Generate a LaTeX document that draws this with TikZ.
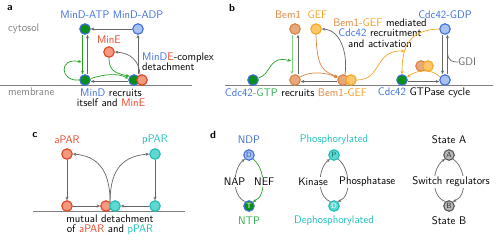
\documentclass[tikz,border=0pt]{standalone}
\usetikzlibrary{arrows.meta}
\renewcommand{\familydefault}{\sfdefault}
\definecolor{cblue}{HTML}{3F6FD9}
\definecolor{clblue}{HTML}{A9C1F2}
\definecolor{cgreen}{HTML}{0A8F1A}
\definecolor{cgtxt}{HTML}{2DB04A}
\definecolor{cgarr}{HTML}{22A022}
\definecolor{clgarr}{HTML}{7DD67D}
\definecolor{cred}{HTML}{E04020}
\definecolor{credl}{HTML}{F29A80}
\definecolor{crtxt}{HTML}{E8482A}
\definecolor{ccyan}{HTML}{1BBDB5}
\definecolor{ccyanl}{HTML}{5ED8D0}
\definecolor{cctxt}{HTML}{20C0BC}
\definecolor{cbem}{HTML}{D9823F}
\definecolor{cbeml}{HTML}{E8A87C}
\definecolor{cbtxt}{HTML}{E0843C}
\definecolor{cgef}{HTML}{F5A623}
\definecolor{cgefl}{HTML}{FFC66A}
\definecolor{cytxt}{HTML}{F5A020}
\definecolor{cgray}{HTML}{666666}
\definecolor{cmem}{HTML}{808080}
\definecolor{cgfill}{HTML}{B8B8B8}
\definecolor{cgbord}{HTML}{555555}
\begin{document}
\begin{tikzpicture}[x=1pt,y=-1pt,
  font=\fontsize{11}{10.2}\selectfont,
  mol/.style={circle,minimum size=10.5pt,inner sep=0pt,line width=1.1pt},
  gtpS/.style={mol,draw=cblue,fill=cgreen},
  gdpS/.style={mol,draw=cblue,fill=clblue},
  mineS/.style={mol,draw=cred,fill=credl},
  bemS/.style={mol,draw=cbem,fill=cbeml},
  gefS/.style={mol,draw=cgef,fill=cgefl},
  aparS/.style={mol,draw=cred,fill=credl},
  pparS/.style={mol,draw=ccyan,fill=ccyanl},
  grayS/.style={mol,draw=cgbord,fill=cgfill},
  lett/.style={font=\fontsize{7.5}{7.5}\selectfont},
  tip/.style={-{Stealth[length=3.5pt,width=3pt]}},
  garr/.style={draw=cgray,line width=0.7pt,tip},
  grarr/.style={draw=cgarr,line width=0.7pt,tip},
  lgarr/.style={draw=clgarr,line width=0.9pt,tip},
  orarr/.style={draw=cbem,line width=0.7pt,tip},
  yarr/.style={draw=cgef,line width=0.7pt,tip},
  mem/.style={draw=cmem,line width=1.1pt},
  lbl/.style={inner sep=0pt},
  panel/.style={inner sep=0pt,font=\fontsize{10.5}{10}\selectfont\bfseries},
  wl/.style={inner sep=1pt,fill=white}
]
\useasboundingbox (0,0) rectangle (500,242);

% ---------------- panel a
\node[panel] (la) at (10,8) {a};
\node[lbl,text=cmem,anchor=west] (cyt) at (8,29) {cytosol};
\node[lbl,text=cmem,anchor=west] (memb) at (8,92) {membrane};
\coordinate (ma1) at (0,85.5);
\coordinate (ma2) at (192,85.5);
\draw[mem] (ma1) -- (ma2);

\node[gtpS] (atp) at (85,29) {};
\node[gdpS] (adp) at (138,29) {};
\node[mineS] (mine) at (109,52) {};
\node[gtpS] (da) at (85,80) {};
\node[gtpS] (db) at (134,80) {};
\node[mineS] (eb) at (142,80) {};

\node[lbl,text=cblue] (tatp) at (85,15) {MinD-ATP};
\node[lbl,text=cblue] (tadp) at (138,15) {MinD-ADP};
\node[lbl,text=crtxt] (tmine) at (109,40) {MinE};
\node[lbl,anchor=west,align=left] (tdet) at (142,62) {\textcolor{cblue}{MinD}\textcolor{crtxt}{E}-complex\\detachment};
\node[lbl,align=center] (trec) at (111,98) {\textcolor{cblue}{MinD} recruits\\itself and \textcolor{crtxt}{MinE}};

\draw[garr] (adp) -- (atp);
\draw[grarr] ([xshift=-2.5pt]atp.south) -- ([xshift=-2.5pt]da.north);
\draw[garr] ([xshift=2.5pt]da.north) -- ([xshift=2.5pt]atp.south);
\coordinate (loopend) at (81.5,62);
\draw[grarr] (da.west) .. controls (60,82) and (58,57) .. (loopend);
\draw[grarr] ([yshift=1.5pt]da.east) .. controls (105,74) and (118,73) .. ([yshift=1.5pt]db.west);
\draw[garr] ([yshift=-1.5pt]db.west) -- ([yshift=-1.5pt]da.east);
\draw[grarr] (mine.south) .. controls (109,70) and (114,73) .. (db.140);
\draw[garr] (eb.110) .. controls (139,60) and (130,53) .. (mine.east);
\draw[garr] (adp |- db.north) -- (adp.south);

% ---------------- panel b
\node[panel] (lb) at (232,8) {b};
\coordinate (mb1) at (225,85.5);
\coordinate (mb2) at (493,85.5);
\draw[mem] (mb1) -- (mb2);

\node[gtpS] (gtp) at (253,80) {};
\node[bemS] (bemt) at (295,29) {};
\node[gefS] (gef) at (316,29) {};
\node[bemS] (bemb) at (295,80) {};
\node[bemS] (pb) at (343,80) {};
\node[gefS] (pg) at (351,80) {};
\node[gtpS] (cdc) at (402,80) {};
\node[gdpS] (gdpb) at (445,80) {};
\node[gdpS] (gdpt) at (445,29) {};
\node[bemS] (fb) at (421,66) {};
\node[gefS] (fg) at (428,66) {};

\node[lbl,text=cbtxt] (tbem) at (288,15) {Bem1};
\node[lbl,text=cytxt] (tgef) at (317.5,15) {GEF};
\node[lbl,text=cblue] (tgdp) at (445,15) {Cdc42-GDP};
\node[lbl,align=center] (tmed) at (380,33) {\textcolor{cbtxt}{Bem1}\textcolor{cytxt}{-GEF} mediated\\\textcolor{cblue}{Cdc42} recruitment\\and activation};
\node[lbl] (trb) at (296,93) {\textcolor{cblue}{Cdc42}\textcolor{cgtxt}{-GTP} recruits \textcolor{cbtxt}{Bem1}\textcolor{cytxt}{-GEF}};
\node[lbl] (tcyc) at (424,93) {\textcolor{cblue}{Cdc42} GTPase cycle};
\node[lbl,anchor=west,text=cgray] (gdi) at (458,62) {GDI};

\draw[lgarr] ([xshift=-3pt]bemt.south) -- ([xshift=-3pt]bemb.north);
\draw[garr] ([xshift=3pt]bemb.north) -- ([xshift=3pt]bemt.south);
\coordinate (gtpend) at (291,61);
\draw[grarr] (gtp.20) .. controls (272,74) and (268,55) .. (gtpend);
\draw[orarr] (gef.south) .. controls (317,70) and (324,71) .. (pb.150);
\draw[orarr] (bemb.30) .. controls (310,71) and (326,72) .. (pb.160);
\draw[garr] ([yshift=-1.5pt]pb.west) -- ([yshift=-1.5pt]bemb.east);
\draw[garr] (pb.70) .. controls (348,52) and (340,30) .. (gef.east);
\draw[yarr] (gdpt.west) .. controls (410,30) and (402,45) .. (cdc.north);
\coordinate (med) at (404.5,51);
\draw[yarr] (pg.east) .. controls (382,80) and (374,50) .. (med);
\draw[yarr] (gdpb.150) .. controls (433,69) and (418,69) .. (cdc.30);
\draw[garr] ([yshift=-1.5pt]cdc.east) -- ([yshift=-1.5pt]gdpb.west);
\draw[garr] ([xshift=-2.5pt]gdpt.south) -- ([xshift=-2.5pt]gdpb.north);
\draw[garr] ([xshift=2.5pt]gdpb.north) -- ([xshift=2.5pt]gdpt.south);
\coordinate (gdiA) at (447.5,54);
\draw[draw=cgray,line width=0.7pt] (gdiA) .. controls (449,61) and (452,62) .. (gdi.west);

% ---------------- panel c
\node[panel] (lc) at (35,135) {c};
\coordinate (mc1) at (33,211.5);
\coordinate (mc2) at (185,211.5);
\draw[mem] (mc1) -- (mc2);

\node[aparS] (at) at (67,154) {};
\node[pparS] (pt) at (155,154) {};
\node[aparS] (ab) at (67,206) {};
\node[pparS] (pbt) at (155,206) {};
\node[aparS] (pa) at (106,206) {};
\node[pparS] (pp) at (115,206) {};

\node[lbl,text=crtxt] (tapar) at (67,140) {aPAR};
\node[lbl,text=cctxt] (tppar) at (155,140) {pPAR};
\node[lbl,align=center] (tmut) at (110,224.5) {mutual detachment\\of \textcolor{crtxt}{aPAR} and \textcolor{cctxt}{pPAR}};

\draw[garr] (at.south) -- (ab.north);
\draw[garr] (pt.south) -- (pbt.north);
\draw[garr] (ab.east) -- (pa.west);
\draw[garr] (pbt.west) -- (pp.east);
\draw[garr] (pa.north east) .. controls (110,168) and (96,156) .. (at.east);
\draw[garr] (pa.north east) .. controls (110,168) and (124,156) .. (pt.west);

% ---------------- panel d
\node[panel] (ld) at (213,135) {d};
% NDP/NTP
\node[gdpS,lett,text=cblue!80!black] (nD) at (249,155) {D};
\node[gtpS,lett,text=white] (nT) at (249,206) {T};
\node[lbl,text=cblue] (tndp) at (249,140) {NDP};
\node[lbl,text=cgtxt] (tntp) at (249,221) {NTP};
\draw[garr] (nT.130) .. controls (231,196) and (233,168) .. (nD.225);
\draw[grarr] (nD.-45) .. controls (265,168) and (267,196) .. (nT.50);
\node[wl,anchor=east] (tnap) at (246.5,182) {NAP};
\node[wl,anchor=west] (tnef) at (253,182) {NEF};
% phosphorylation
\node[pparS,lett,text=ccyan!60!black] (nP) at (334,155) {P};
\node[pparS,lett,text=white] (nDp) at (334,206) {D};
\node[lbl,text=cctxt] (tph) at (334,140) {Phosphorylated};
\node[lbl,text=cctxt] (tdph) at (334,221) {Dephosphorylated};
\draw[garr] (nDp.130) .. controls (316,196) and (318,168) .. (nP.225);
\draw[garr] (nP.-45) .. controls (350,168) and (352,196) .. (nDp.50);
\node[wl,anchor=east] (tkin) at (329,182) {Kinase};
\node[wl,anchor=west] (tpho) at (338,182) {Phosphatase};
% states
\node[grayS,lett,text=black!80] (nA) at (449,155) {A};
\node[grayS,lett,text=black!80] (nB) at (449,206) {B};
\node[lbl] (tsa) at (449,140) {State A};
\node[lbl] (tsb) at (449,221) {State B};
\draw[garr] (nB.130) .. controls (430,196) and (432,168) .. (nA.225);
\draw[garr] (nA.-45) .. controls (466,168) and (468,196) .. (nB.50);
\node[wl] (tsw) at (451,182) {Switch regulators};
\end{tikzpicture}
\end{document}
